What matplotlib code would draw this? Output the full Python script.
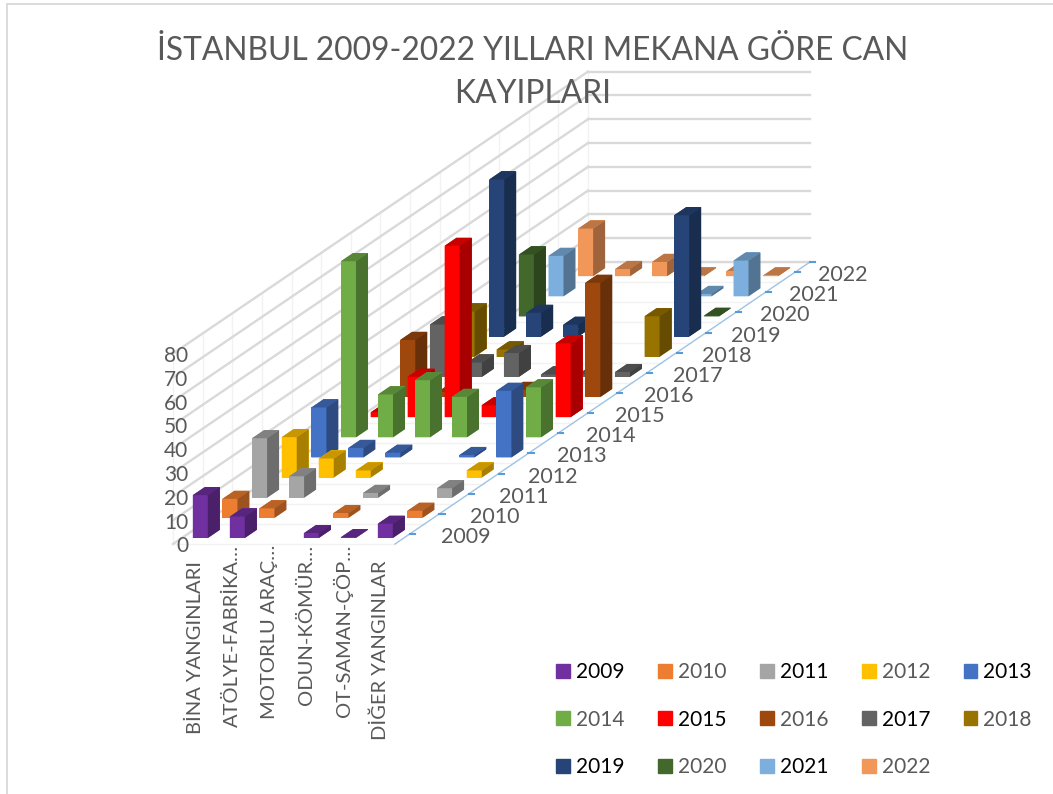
#!/usr/bin/env python3
"""Istanbul 2009-2022 yangin can kayiplari, oblik 3B sutun grafigi"""
import matplotlib
matplotlib.use("Agg")
import matplotlib.pyplot as plt
import numpy as np
from matplotlib.colors import to_rgb
from matplotlib.lines import Line2D
from matplotlib.patches import Patch
from mpl_toolkits.mplot3d import proj3d

plt.rcParams["font.family"] = ["Lato", "DejaVu Sans"]

years = list(range(2009, 2023))
categories = ["BİNA YANGINLARI", "ATÖLYE-FABRİKA…", "MOTORLU ARAÇ…",
              "ODUN-KÖMÜR…", "OT-SAMAN-ÇÖP…", "DİĞER YANGINLAR"]

bina = [18, 8, 25, 17, 21, 74, 2, 24, 22, 19, 66, 26, 17, 20]
atolye = [9, 4, 9, 8, 4, 18, 17, 2, 6, 3, 10, 0, 0, 3]
motorlu = [0, 0, 0, 3, 2, 24, 72, 0, 10, 0, 5, 0, 0, 6]
odun = [2, 2, 2, 0, 0, 17, 5, 3, 1, 0, 0, 0, 0, 0.3]
ot = [0.3, 0, 0, 0, 1, 0, 0, 0, 1, 0, 0, 0, 1, 2]
diger = [6, 3, 4, 3, 28, 21, 31, 48, 2, 17, 51, 0.3, 15, 0.3]

colors = ["#7030A0", "#ED7D31", "#A5A5A5", "#FFC000", "#4472C4", "#70AD47", "#FF0000",
          "#9E480E", "#636363", "#997300", "#264478", "#43682B", "#7CAFDD", "#F1975A"]
legend_text = ["black", "#595959"] * 7
z_ticks = list(range(0, 90, 10))

GRAY = "#595959"
BAR_W = 0.405
W, H = 1053, 794


def make_proj() -> np.ndarray:
    # veri -> sekil orani: kategori saga, yil sag-yukari, deger yukari
    # derinlik hep negatif kalmali, yoksa Line3D noktalari maskeleniyor
    return np.array([
        [37.0 / W, 29.64 / W, 0.0, 173.0 / W],
        [0.0, 20.14 / H, 2.38 / H, 250.0 / H],
        [-1 / 6, 1 / 14, -1 / 80, -3.0],
        [0.0, 0.0, 0.0, 1.0],
    ])


def put_text(ax, proj, x, y, z, s, **kw) -> None:
    px, py, _ = proj3d.proj_transform(x, y, z, proj)
    ax.text2D(px, py, s, transform=ax.transData, color=GRAY, zorder=50, **kw)


def draw_walls(ax) -> None:
    nx, ny = len(categories), len(years)
    for j in range(ny + 1):
        ax.plot([0, 0], [j, j], [0, 80], color="#f2f2f2", lw=1, zorder=1)
        ax.plot([0, nx], [j, j], [0, 0], color="#f2f2f2", lw=1, zorder=1)
    for k in z_ticks:
        ax.plot([0, 0], [0, ny], [k, k], color="#d9d9d9", lw=1.7, zorder=2)
        ax.plot([0, nx], [ny, ny], [k, k], color="#d9d9d9", lw=1.7, zorder=2)
    ax.plot([nx, nx], [0, ny], [0, 0], color="#9dc3e6", lw=1, zorder=3)
    for j in [y + 0.5 for y in range(ny)] + [ny]:
        ax.plot([nx, nx + 0.14], [j, j], [0, 0], color="#5B9BD5", lw=1.5, zorder=3)


def draw_bars(ax) -> None:
    table = [bina, atolye, motorlu, odun, ot, diger]
    off = (1 - BAR_W) / 2
    for j, col in enumerate(colors):
        rgb = np.array(to_rgb(col))
        faces = [rgb, rgb * 0.78, rgb, rgb, rgb, rgb * 0.66]
        for i, vals in enumerate(table):
            if vals[j] <= 0:
                continue
            ax.bar3d(i + off, j + off, 0, BAR_W, BAR_W, vals[j], color=faces,
                     shade=False, zorder=30 - j)


def draw_labels(ax, proj) -> None:
    for k in z_ticks:
        put_text(ax, proj, 0.41, 0, k - 1, str(k), ha="right", va="center", fontsize=15)
    for j, y in enumerate(years):
        # etiketler eksenden biraz daha yavas ilerliyor
        put_text(ax, proj, 6 + (31 - 8 * j / 13) / 37, j + 0.5, -1.3, str(y),
                 ha="left", va="center", fontsize=15.5)
    for i, c in enumerate(categories):
        # kisaltilmis etiketlerin uc noktalari eksene kadar cikiyor
        top = -0.3 if c.endswith("…") else -7
        put_text(ax, proj, i + 0.6, 0, top, c, rotation=90, ha="center", va="top", fontsize=14.5)


def main() -> None:
    fig = plt.figure(figsize=(W / 100, H / 100), dpi=100, facecolor="white")
    ax = fig.add_axes([0, 0, 1, 1], projection="3d", computed_zorder=False)
    proj = make_proj()
    ax.get_proj = lambda: proj
    ax.apply_aspect = lambda position=None: None
    ax.set_axis_off()

    draw_walls(ax)
    draw_bars(ax)
    draw_labels(ax, proj)
    ax.viewLim.intervalx = (0, 1)
    ax.viewLim.intervaly = (0, 1)

    # cerceve sadece ust ve solda gorunuyor
    fig.add_artist(Line2D([7 / W, 1], [1 - 4 / H, 1 - 4 / H], color="#d9d9d9", lw=1.3))
    fig.add_artist(Line2D([7 / W, 7 / W], [0, 1 - 4 / H], color="#d9d9d9", lw=1.3))

    fig.text(533 / W, 1 - 51 / H, "İSTANBUL 2009-2022 YILLARI MEKANA GÖRE CAN",
             ha="center", va="center", fontsize=22.9, color=GRAY)
    fig.text(533 / W, 1 - 94 / H, "KAYIPLARI",
             ha="center", va="center", fontsize=22.9, color=GRAY)

    # legend sutun sutun doluyor, satir sirasi icin yeniden diz
    order = [r * 5 + c for c in range(5) for r in range(3) if r * 5 + c < len(years)]
    handles = [Patch(color=colors[n], label=str(years[n])) for n in order]
    leg = fig.legend(handles=handles, ncols=5, frameon=False, fontsize=15,
                     loc="lower right", bbox_to_anchor=(1032 / W, 1 - 777 / H),
                     handlelength=0.67, handleheight=0.67, handletextpad=0.29,
                     columnspacing=1.605, labelspacing=1.31, borderaxespad=0, borderpad=0)
    for t, n in zip(leg.get_texts(), order):
        t.set_color(legend_text[n])

    fig.savefig("out.png", dpi=100)
    plt.close(fig)


if __name__ == "__main__":
    main()
